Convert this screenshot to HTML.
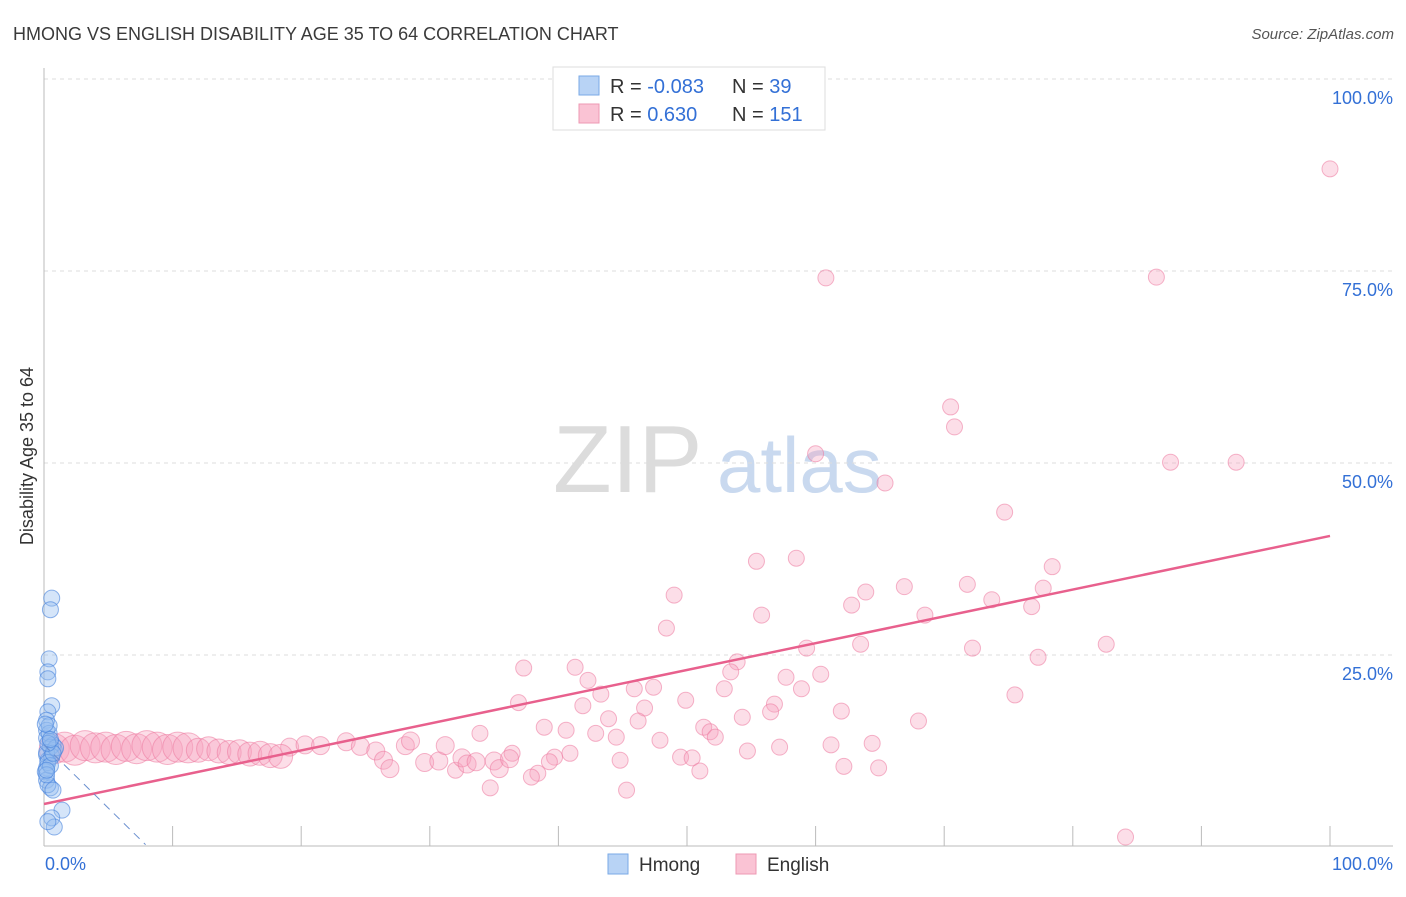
<!DOCTYPE html>
<html><head><meta charset="utf-8"><style>
body{margin:0;background:#fff;font-family:"Liberation Sans",sans-serif}
svg text{font-family:"Liberation Sans",sans-serif}
</style></head><body>
<svg id="chart" width="1406" height="892" xmlns="http://www.w3.org/2000/svg">
<text x="13" y="40" font-size="18" fill="#3a3a3a">HMONG VS ENGLISH DISABILITY AGE 35 TO 64 CORRELATION CHART</text>
<text x="1394" y="39" font-size="15" fill="#555" text-anchor="end" font-style="italic">Source: ZipAtlas.com</text>
<g>
<text x="553" y="492" font-size="96" fill="#dcdcdc" font-family="Liberation Serif, serif">ZIP</text>
<text x="717" y="492" font-size="78" fill="#c9d9ef">atlas</text>
</g>
<g id="grid"></g>
<g id="axes"></g>
<g id="pts"></g>
<g id="lines"></g>
<text transform="translate(33,456) rotate(-90)" font-size="18" fill="#333" text-anchor="middle">Disability Age 35 to 64</text>
<g>
<rect x="553" y="67" width="272" height="63" fill="#fff" stroke="#ddd"/>
<rect x="579" y="76" width="20" height="19" fill="#b8d3f5" stroke="#7aa9e6"/>
<rect x="579" y="104" width="20" height="19" fill="#fac3d4" stroke="#ee98b3"/>
<text x="610" y="93" font-size="20" fill="#333">R = <tspan fill="#3370d6">-0.083</tspan></text>
<text x="732" y="93" font-size="20" fill="#333">N = <tspan fill="#3370d6"> 39</tspan></text>
<text x="610" y="121" font-size="20" fill="#333">R = <tspan fill="#3370d6"> 0.630</tspan></text>
<text x="732" y="121" font-size="20" fill="#333">N = <tspan fill="#3370d6">151</tspan></text>
</g>
<g>
<rect x="608" y="854" width="20" height="20" fill="#b8d3f5" stroke="#7aa9e6"/>
<text x="639" y="871" font-size="19" fill="#333">Hmong</text>
<rect x="736" y="854" width="20" height="20" fill="#fac3d4" stroke="#ee98b3"/>
<text x="767" y="871" font-size="19" fill="#333">English</text>
</g>
</svg>
<script>
const yTicks=[25,50,75,100];
const yTickLabels=["25.0%","50.0%","75.0%","100.0%"];
const xTicks=[10,20,30,40,50,60,70,80,90,100];
const englishX=[100,60.8,86.5,70.5,70.8,60.0,65.4,87.6,92.7,74.7,55.4,58.5,78.4,66.9,71.8,63.9,77.7,49.0,62.8,73.7,76.8,68.5,55.8,48.4,59.3,63.5,72.2,82.6,53.9,77.3,37.3,41.3,53.4,60.4,42.3,57.7,45.9,47.4,52.9,58.9,43.3,49.9,75.5,36.9,41.9,46.7,56.8,56.5,62.0,38.9,43.9,46.2,54.3,68.0,40.6,51.3,33.9,42.9,44.5,51.8,52.2,47.9,61.2,64.4,54.7,57.2,40.9,39.7,36.4,49.5,50.4,44.8,39.3,62.2,64.9,51.0,38.4,37.9,32.0,34.7,45.3,84.1,
19.1,20.3,21.5,23.5,24.6,25.8,26.4,26.9,28.1,28.5,29.6,30.7,31.2,32.5,32.9,33.6,35.0,35.4,36.2,
0.8,1.6,2.4,3.2,4.0,4.8,5.6,6.4,7.2,8.0,8.8,9.6,10.4,11.2,12.0,12.8,13.6,14.4,15.2,16.0,16.8,17.6,18.4];
const englishY=[88.3,74.1,74.2,57.3,54.7,51.2,47.4,50.1,50.1,43.6,37.2,37.6,36.5,33.9,34.2,33.2,33.7,32.8,31.5,32.2,31.3,30.2,30.2,28.5,25.9,26.4,25.9,26.4,24.1,24.7,23.3,23.4,22.8,22.5,21.7,22.1,20.6,20.8,20.6,20.6,19.9,19.1,19.8,18.8,18.4,18.1,18.6,17.6,17.7,15.6,16.7,16.4,16.9,16.4,15.2,15.6,14.8,14.8,14.3,15.0,14.3,13.9,13.3,13.5,12.5,13.0,12.2,11.7,12.2,11.7,11.6,11.3,11.1,10.5,10.3,9.9,9.6,9.1,10.0,7.7,7.4,1.3,
13.0,13.3,13.2,13.7,13.1,12.5,11.3,10.2,13.2,13.8,11.0,11.2,13.2,11.6,10.8,11.1,11.2,10.2,11.5,
12.8,13.0,12.6,13.2,12.9,13.0,12.7,13.1,12.8,13.2,13.0,12.7,13.0,12.9,12.6,12.8,12.5,12.3,12.4,12.1,12.2,11.9,11.8];
const englishR=[];
const hmongX=[0.6,0.5,0.4,0.3,0.3,0.6,0.3,0.2,0.2,0.2,0.5,0.7,0.8,0.2,0.3,0.2,0.1,0.2,0.5,0.3,0.7,1.4,0.6,0.8,0.3,0.4,0.5,0.2,0.6,0.9,0.3,0.5,0.2,0.4,0.1,0.7,0.3,0.5,0.2];
const hmongY=[32.4,30.9,24.5,22.8,21.9,18.4,17.6,16.5,15.2,14.2,13.7,13.3,12.6,12.0,11.3,10.3,9.8,8.7,7.7,8.1,7.4,4.8,3.8,2.6,3.3,14.8,13.0,12.3,11.8,12.9,11.0,10.6,9.4,15.8,16.0,12.2,13.5,14.0,10.0];
const englishTrend=[5.6,40.5];
const hmongTrend=[13.3,0.3,7.9];
const NS="http://www.w3.org/2000/svg";
const X=v=>44+v*12.86, Y=v=>847-v*7.68;
function mk(tag,attrs,parent){const e=document.createElementNS(NS,tag);for(const k in attrs)e.setAttribute(k,attrs[k]);parent.appendChild(e);return e;}
const grid=document.getElementById('grid'),axes=document.getElementById('axes'),pts=document.getElementById('pts'),lines=document.getElementById('lines');
yTicks.forEach((t,i)=>{
 const l=mk('line',{x1:44,x2:1393,y1:Y(t),y2:Y(t),stroke:'#ddd','stroke-dasharray':'4,4'},grid);
 
 
 const tx=mk('text',{x:1393,y:Y(t)+25,'font-size':18,fill:'#3370d6','text-anchor':'end'},axes);
 tx.textContent=yTickLabels[i];
 
 
});
const ax=mk('line',{x1:44,x2:44,y1:68,y2:846,stroke:'#bbb'},axes);


const bx=mk('line',{x1:44,x2:1393,y1:846,y2:846,stroke:'#bbb'},axes);


xTicks.forEach(t=>{
 const l=mk('line',{x1:X(t),x2:X(t),y1:826,y2:846,stroke:'#bbb'},axes);
 
 
});
const x0=mk('text',{x:45,y:870,'font-size':18,fill:'#3370d6'},axes);x0.textContent="0.0%";


const x1=mk('text',{x:1393,y:870,'font-size':18,fill:'#3370d6','text-anchor':'end'},axes);x1.textContent="100.0%";


englishX.forEach((x,i)=>{
 const r=i>=101? (x<12?15:12) : (i>=82?9:8);
 const c=mk('circle',{cx:X(x),cy:Y(englishY[i]),r:r,fill:'rgba(247,160,188,0.35)',stroke:'rgba(236,120,158,0.55)','stroke-width':1},pts);
 
 
});
hmongX.forEach((x,i)=>{
 const c=mk('circle',{cx:X(x),cy:Y(hmongY[i]),r:8,fill:'rgba(150,190,240,0.4)',stroke:'rgba(70,130,220,0.6)','stroke-width':1},pts);
 
 
});
const el=mk('line',{x1:X(0),y1:Y(englishTrend[0]),x2:X(100),y2:Y(englishTrend[1]),stroke:'#e8608d','stroke-width':2.5},lines);


const hl=mk('line',{x1:X(0),y1:Y(hmongTrend[0]),x2:X(hmongTrend[2]),y2:Y(hmongTrend[1]),stroke:'#6a8fcf','stroke-width':1,'stroke-dasharray':'8,6'},lines);


</script>
</body></html>
